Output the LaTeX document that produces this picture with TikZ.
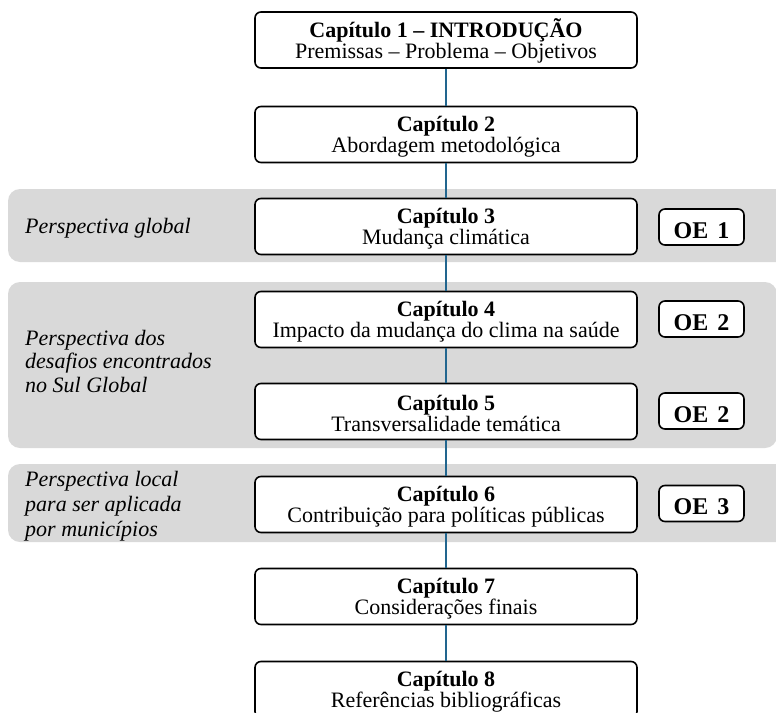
\documentclass[tikz,border=0pt]{standalone}
\usepackage{fontspec}
\setmainfont{Liberation Serif}
\begin{document}
\begin{tikzpicture}[x=1pt,y=-1pt,
  band/.style={fill=bandgrey,draw=none,rounded corners=12pt},
  chap/.style={draw=black,line width=1.6pt,rounded corners=6pt,fill=white,
    minimum width=382pt,minimum height=56pt,inner sep=0pt},
  chaptext/.style={inner sep=0pt,align=center,
    font=\fontsize{22}{21}\selectfont},
  oebox/.style={draw=black,line width=1.6pt,rounded corners=6pt,fill=white,
    minimum width=85pt,minimum height=36pt,inner sep=0pt,
    text height=22.6pt,text depth=0pt,
    font=\fontsize{24}{24}\selectfont\bfseries},
  persp/.style={anchor=north west,inner sep=0pt,align=left,
    font=\fontsize{22}{23.5}\selectfont\itshape},
  link/.style={draw=linkblue,line width=1.8pt}]
\definecolor{bandgrey}{HTML}{D9D9D9}
\definecolor{linkblue}{HTML}{22668F}
\useasboundingbox (0,0) rectangle (776,712);
\clip (0,0) rectangle (776,712);
% bands
\path[band] (8,189) rectangle (800,262);
\path[band] (8,282) rectangle (777,448);
\path[band] (8,464) rectangle (800,542);
% band texts
\node[persp,anchor=base west] (p1) at (25,233) {Perspectiva global};
\node[persp] (p2) at (25,330) {Perspectiva dos\\desafios encontrados\\no Sul Global};
\node[persp,font=\fontsize{22}{25}\selectfont\itshape] (p3) at (25,471) {Perspectiva local\\para ser aplicada\\por municípios};
% chapter boxes
\node[chap] (c1) at (446,40) {};
\node[chap] (c2) at (446,134.5) {};
\node[chap] (c3) at (446,226.5) {};
\node[chap] (c4) at (446,319.5) {};
\node[chap] (c5) at (446,411.5) {};
\node[chap] (c6) at (446,504.5) {};
\node[chap] (c7) at (446,596.5) {};
\node[chap] (c8) at (446,689.5) {};
\node[chaptext] (t1) at ([yshift=-1pt]c1.center) {\textbf{Capítulo 1 – INTRODUÇÃO}\\Premissas – Problema – Objetivos};
\node[chaptext] (t2) at ([yshift=-2pt]c2.center) {\textbf{Capítulo 2}\\Abordagem metodológica};
\node[chaptext] (t3) at ([yshift=-2pt]c3.center) {\textbf{Capítulo 3}\\Mudança climática};
\node[chaptext] (t4) at ([yshift=-2pt]c4.center) {\textbf{Capítulo 4}\\Impacto da mudança do clima na saúde};
\node[chaptext] (t5) at ([yshift=-2pt]c5.center) {\textbf{Capítulo 5}\\Transversalidade temática};
\node[chaptext] (t6) at ([yshift=-2pt]c6.center) {\textbf{Capítulo 6}\\Contribuição para políticas públicas};
\node[chaptext] (t7) at ([yshift=-2pt]c7.center) {\textbf{Capítulo 7}\\Considerações finais};
\node[chaptext] (t8) at ([yshift=-2pt]c8.center) {\textbf{Capítulo 8}\\Referências bibliográficas};
% connectors
\foreach \a/\b in {c1/c2,c2/c3,c3/c4,c4/c5,c5/c6,c6/c7,c7/c8}
  \draw[link] (\a.south) -- (\b.north);
% OE boxes
\node[oebox] (oe1) at (701.5,227) {OE\hspace{3pt} 1};
\node[oebox] (oe2) at (701.5,319) {OE\hspace{3pt} 2};
\node[oebox] (oe2b) at (701.5,411) {OE\hspace{3pt} 2};
\node[oebox] (oe3) at (701.5,503.5) {OE\hspace{3pt} 3};
\end{tikzpicture}
\end{document}
